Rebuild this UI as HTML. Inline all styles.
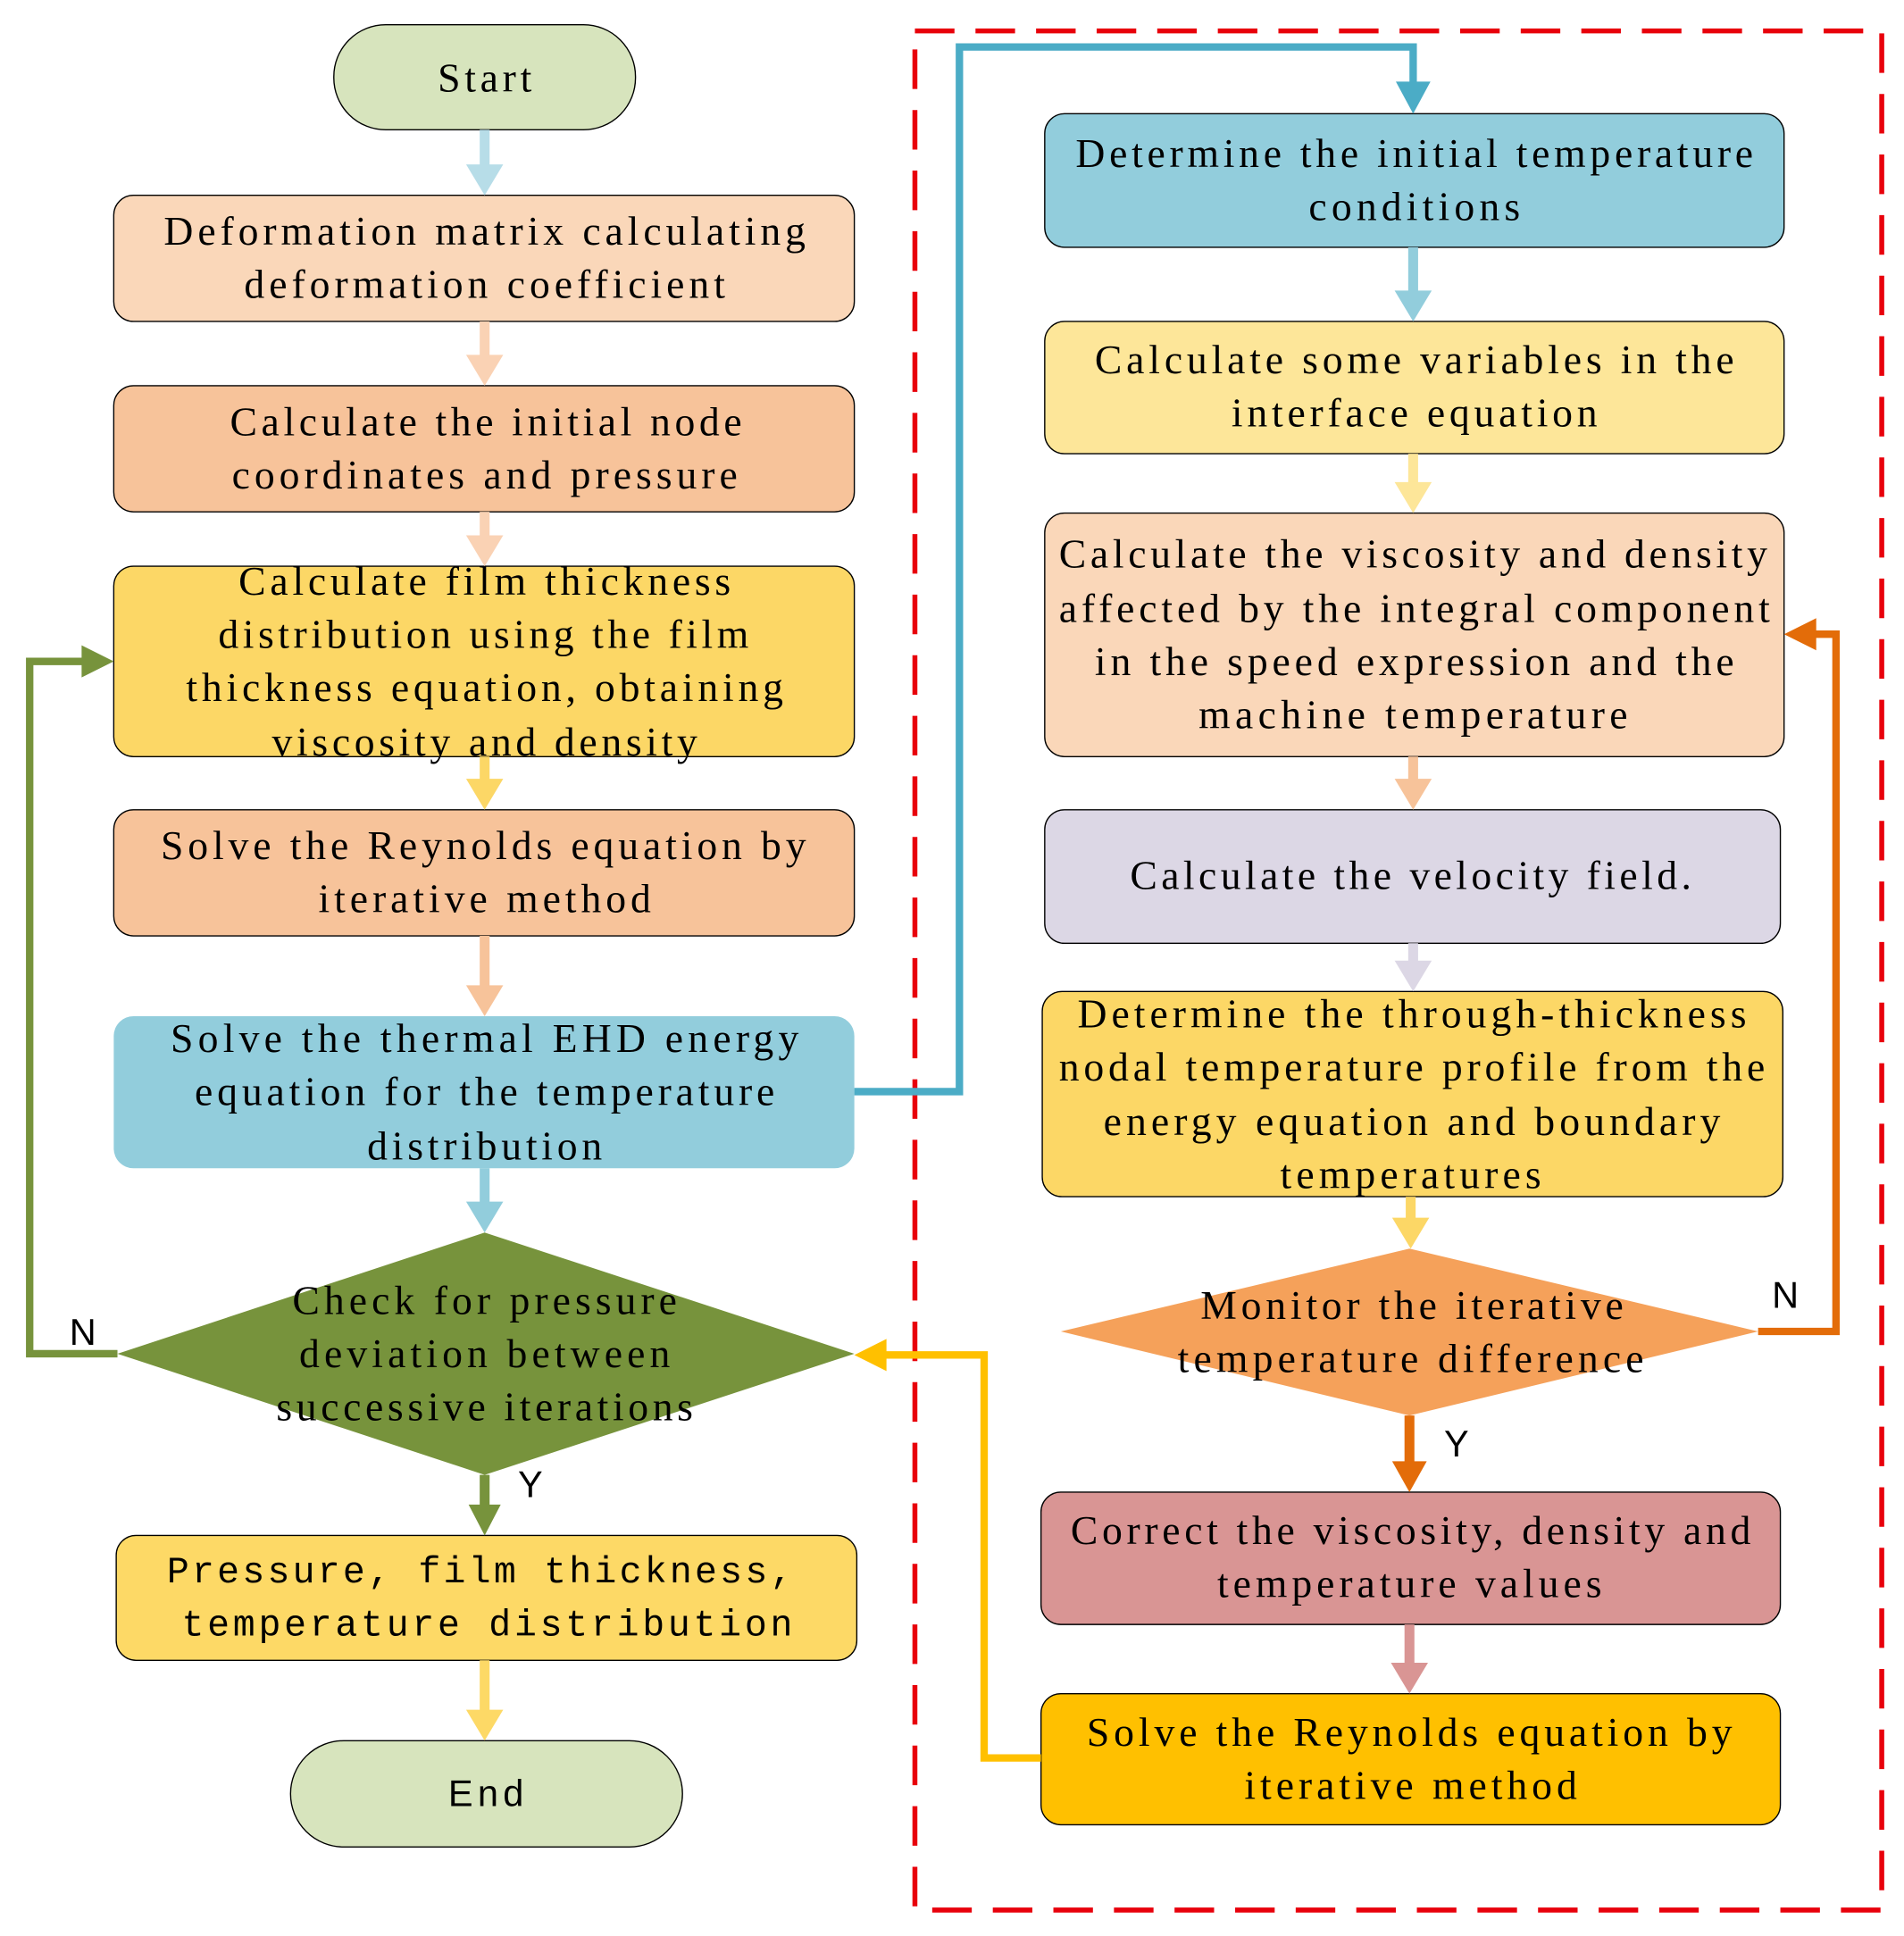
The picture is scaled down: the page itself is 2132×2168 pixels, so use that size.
<!DOCTYPE html>
<html><head><meta charset="utf-8"><style>html,body{margin:0;padding:0;background:#fff}svg{display:block}
.t{font-family:"Liberation Serif",serif;font-size:33px;fill:#000;text-anchor:middle}
.s{font-family:"Liberation Sans",sans-serif;font-size:30px;fill:#000;text-anchor:middle}
.m{font-family:"Liberation Mono",monospace;font-size:30px;fill:#000;text-anchor:middle}
</style></head><body>
<svg width="2132" height="2168" viewBox="0 0 1540 1566" preserveAspectRatio="none" xmlns="http://www.w3.org/2000/svg">
<rect x="740" y="25" width="782" height="1520" fill="none" stroke="#e8000b" stroke-width="4" stroke-dasharray="32 17"/>
<!-- left nodes -->
<rect x="270" y="20" width="244" height="85" rx="42" fill="#d7e4bd" stroke="#000" stroke-width="1"/>
<rect x="92" y="158" width="599" height="102" rx="16" fill="#fad7b9" stroke="#000" stroke-width="1"/>
<rect x="92" y="312" width="599" height="102" rx="16" fill="#f7c39a" stroke="#000" stroke-width="1"/>
<rect x="92" y="458" width="599" height="154" rx="16" fill="#fcd766" stroke="#000" stroke-width="1"/>
<rect x="92" y="655" width="599" height="102" rx="16" fill="#f7c39a" stroke="#000" stroke-width="1"/>
<rect x="92" y="822" width="599" height="123" rx="16" fill="#92cddc"/>
<polygon points="392,997 691,1095 392,1193 95,1095" fill="#77933c"/>
<rect x="94" y="1242" width="599" height="101" rx="16" fill="#fdd966" stroke="#000" stroke-width="1"/>
<rect x="235" y="1408" width="317" height="86" rx="43" fill="#d7e4bd" stroke="#000" stroke-width="1"/>
<!-- right nodes -->
<rect x="845" y="92" width="598" height="108" rx="16" fill="#92cddc" stroke="#000" stroke-width="1"/>
<rect x="845" y="260" width="598" height="107" rx="16" fill="#fde699" stroke="#000" stroke-width="1"/>
<rect x="845" y="415" width="598" height="197" rx="16" fill="#fad7b9" stroke="#000" stroke-width="1"/>
<rect x="845" y="655" width="595" height="108" rx="16" fill="#dcd7e5" stroke="#000" stroke-width="1"/>
<rect x="843" y="802" width="599" height="166" rx="16" fill="#fcd766" stroke="#000" stroke-width="1"/>
<polygon points="1140,1010 1422,1077 1140,1145 858,1077" fill="#f5a15a"/>
<rect x="842" y="1207" width="598" height="107" rx="16" fill="#d99594" stroke="#000" stroke-width="1"/>
<rect x="842" y="1370" width="598" height="106" rx="16" fill="#ffc000" stroke="#000" stroke-width="1"/>
<!-- arrows -->
<g stroke-width="8" fill="none">
<line x1="392" y1="105" x2="392" y2="135" stroke="#b7dde8"/>
<line x1="392" y1="260" x2="392" y2="289" stroke="#fad2b4"/>
<line x1="392" y1="414" x2="392" y2="435" stroke="#fad2b4"/>
<line x1="392" y1="612" x2="392" y2="632" stroke="#fcd766"/>
<line x1="392" y1="757" x2="392" y2="799" stroke="#f7c39a"/>
<line x1="392" y1="945" x2="392" y2="975" stroke="#92cddc"/>
<line x1="392" y1="1193" x2="392" y2="1219" stroke="#77933c"/>
<line x1="392" y1="1343" x2="392" y2="1385" stroke="#fdd966"/>
<polyline points="95,1095 24,1095 24,535 70,535" stroke="#77933c" stroke-width="6"/>
<polyline points="691,883 776,883 776,38 1143,38 1143,70" stroke="#4bacc6" stroke-width="6"/>
<line x1="1143" y1="200" x2="1143" y2="237" stroke="#92cddc"/>
<line x1="1143" y1="367" x2="1143" y2="392" stroke="#fde699"/>
<line x1="1143" y1="612" x2="1143" y2="632" stroke="#f7c39a"/>
<line x1="1143" y1="763" x2="1143" y2="780" stroke="#dcd7e5"/>
<line x1="1141" y1="968" x2="1141" y2="988" stroke="#fcd766"/>
<line x1="1140" y1="1145" x2="1140" y2="1184" stroke="#e36c09"/>
<line x1="1140" y1="1314" x2="1140" y2="1347" stroke="#d99594"/>
<polyline points="1422,1077 1485,1077 1485,513 1465,513" stroke="#e36c09" stroke-width="6"/>
<polyline points="842,1422 796,1422 796,1096 713,1096" stroke="#ffc000" stroke-width="6"/>
</g>
<g>
<polygon points="377,133 407,133 392,158" fill="#b7dde8"/>
<polygon points="377,287 407,287 392,312" fill="#fad2b4"/>
<polygon points="377,433 407,433 392,458" fill="#fad2b4"/>
<polygon points="377,630 407,630 392,655" fill="#fcd766"/>
<polygon points="377,797 407,797 392,822" fill="#f7c39a"/>
<polygon points="377,972 407,972 392,997" fill="#92cddc"/>
<polygon points="379,1217 405,1217 392,1242" fill="#77933c"/>
<polygon points="377,1383 407,1383 392,1408" fill="#fdd966"/>
<polygon points="66,522 92,535 66,548" fill="#77933c"/>
<polygon points="1129,66 1157,66 1143,92" fill="#4bacc6"/>
<polygon points="1128,235 1158,235 1143,260" fill="#92cddc"/>
<polygon points="1128,390 1158,390 1143,415" fill="#fde699"/>
<polygon points="1128,630 1158,630 1143,655" fill="#f7c39a"/>
<polygon points="1128,777 1158,777 1143,802" fill="#dcd7e5"/>
<polygon points="1126,985 1156,985 1141,1010" fill="#fcd766"/>
<polygon points="1126,1182 1154,1182 1140,1207" fill="#e36c09"/>
<polygon points="1125,1345 1155,1345 1140,1370" fill="#d99594"/>
<polygon points="1469,500 1443,513 1469,526" fill="#e36c09"/>
<polygon points="717,1083 691,1096 717,1109" fill="#ffc000"/>
</g>
<!-- labels -->
<text class="s" x="67" y="1088">N</text>
<text class="s" x="429" y="1211">Y</text>
<text class="s" x="1444" y="1058">N</text>
<text class="s" x="1178" y="1178">Y</text>
<!-- left text -->
<text class="t" x="392" y="74" textLength="76">Start</text>
<text class="t" x="392" y="198" textLength="519">Deformation matrix calculating</text>
<text class="t" x="392" y="241" textLength="389">deformation coefficient</text>
<text class="t" x="393" y="352" textLength="414">Calculate the initial node</text>
<text class="t" x="392" y="395" textLength="409">coordinates and pressure</text>
<text class="t" x="392" y="481" textLength="398">Calculate film thickness</text>
<text class="t" x="391" y="524" textLength="429">distribution using the film</text>
<text class="t" x="392" y="567" textLength="483">thickness equation, obtaining</text>
<text class="t" x="392" y="611" textLength="344">viscosity and density</text>
<text class="t" x="391" y="695" textLength="522">Solve the Reynolds equation by</text>
<text class="t" x="392" y="738" textLength="269">iterative method</text>
<text class="t" x="392" y="851" textLength="508">Solve the thermal EHD energy</text>
<text class="t" x="392" y="894" textLength="469">equation for the temperature</text>
<text class="t" x="392" y="938" textLength="190">distribution</text>
<text class="t" x="392" y="1063" textLength="311">Check for pressure</text>
<text class="t" x="392" y="1106" textLength="300">deviation between</text>
<text class="t" x="392" y="1149" textLength="337">successive iterations</text>
<text class="m" x="388" y="1280" textLength="506">Pressure, film thickness,</text>
<text class="m" x="394" y="1323" textLength="494">temperature distribution</text>
<text class="s" x="393" y="1461" textLength="61">End</text>
<!-- right text -->
<text class="t" x="1144" y="135" textLength="548">Determine the initial temperature</text>
<text class="t" x="1144" y="178" textLength="171">conditions</text>
<text class="t" x="1144" y="302" textLength="517">Calculate some variables in the</text>
<text class="t" x="1144" y="345" textLength="296">interface equation</text>
<text class="t" x="1143" y="459" textLength="573">Calculate the viscosity and density</text>
<text class="t" x="1144" y="503" textLength="575">affected by the integral component</text>
<text class="t" x="1144" y="546" textLength="517">in the speed expression and the</text>
<text class="t" x="1143" y="589" textLength="347">machine temperature</text>
<text class="t" x="1141" y="719" textLength="454">Calculate the velocity field.</text>
<text class="t" x="1142" y="831" textLength="541">Determine the through-thickness</text>
<text class="t" x="1142" y="874" textLength="571">nodal temperature profile from the</text>
<text class="t" x="1142" y="918" textLength="499">energy equation and boundary</text>
<text class="t" x="1141" y="961" textLength="211">temperatures</text>
<text class="t" x="1142" y="1067" textLength="342">Monitor the iterative</text>
<text class="t" x="1141" y="1110" textLength="377">temperature difference</text>
<text class="t" x="1141" y="1249" textLength="550">Correct the viscosity, density and</text>
<text class="t" x="1140" y="1292" textLength="311">temperature values</text>
<text class="t" x="1140" y="1412" textLength="522">Solve the Reynolds equation by</text>
<text class="t" x="1141" y="1455" textLength="269">iterative method</text>
</svg>
</body></html>
